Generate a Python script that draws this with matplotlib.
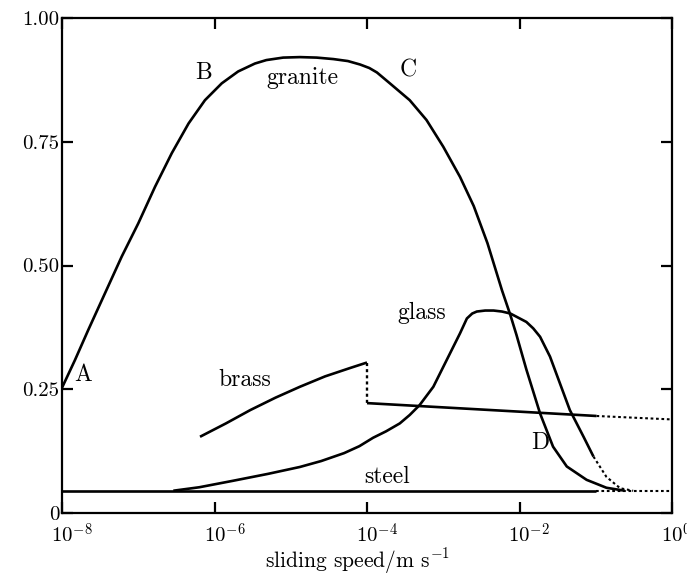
import numpy as np
import matplotlib
matplotlib.use("Agg")
import matplotlib.pyplot as plt
import matplotlib.transforms as mtransforms

plt.rcParams['mathtext.fontset'] = 'cm'
plt.rcParams['font.family'] = ['cmr10', 'DejaVu Serif']
plt.rcParams['axes.unicode_minus'] = False

# ---- data (log10 of sliding speed / m s^-1, friction coefficient) ----
granite_logv = [-8.0, -7.83, -7.655, -7.436, -7.217, -7.0, -6.78, -6.56, -6.34, -6.125,
                -5.905, -5.69, -5.47, -5.32, -5.1, -4.88, -4.66, -4.44, -4.25, -4.09,
                -3.97, -3.87, -3.70, -3.44, -3.22, -3.0, -2.78, -2.6, -2.42, -2.23,
                -2.12, -2.04, -1.91, -1.73, -1.56, -1.38, -1.12, -0.86, -0.62]
granite_mu = [0.253, 0.309, 0.370, 0.444, 0.518, 0.585, 0.659, 0.727, 0.787, 0.834,
              0.868, 0.892, 0.908, 0.915, 0.920, 0.921, 0.920, 0.917, 0.913, 0.906,
              0.899, 0.890, 0.868, 0.834, 0.794, 0.740, 0.679, 0.62, 0.545, 0.45,
              0.40, 0.36, 0.29, 0.201, 0.134, 0.094, 0.067, 0.051, 0.045]

glass_logv = [-6.54, -6.2, -5.76, -5.3, -4.88, -4.6, -4.3, -4.1, -3.92, -3.75, -3.57,
              -3.44, -3.31, -3.13, -2.955, -2.78, -2.69, -2.62, -2.56, -2.45, -2.34,
              -2.23, -2.12, -1.91, -1.82, -1.73, -1.6, -1.47, -1.34, -1.16, -1.03]
glass_mu = [0.045, 0.052, 0.065, 0.079, 0.093, 0.105, 0.121, 0.135, 0.152, 0.165, 0.181,
            0.198, 0.218, 0.255, 0.309, 0.363, 0.393, 0.403, 0.407, 0.409, 0.409,
            0.407, 0.403, 0.386, 0.373, 0.356, 0.316, 0.262, 0.208, 0.154, 0.114]
glass_dot_logv = [-1.03, -0.86, -0.68, -0.51]
glass_dot_mu = [0.114, 0.073, 0.050, 0.045]

brass_logv = [-6.19, -5.85, -5.53, -5.2, -4.88, -4.55, -4.22, -4.0]
brass_mu = [0.154, 0.181, 0.208, 0.233, 0.255, 0.276, 0.293, 0.304]
brass_jump_logv = [-4.0, -4.0]
brass_jump_mu = [0.304, 0.222]
brass_hi_logv = [-4.0, -0.99]
brass_hi_mu = [0.222, 0.196]
brass_hi_dot_logv = [-0.99, 0.0]
brass_hi_dot_mu = [0.196, 0.189]

steel_logv = [-8.0, -1.0]
steel_mu = [0.045, 0.045]
steel_dot_logv = [-1.0, 0.0]
steel_dot_mu = [0.045, 0.045]

xtick_exp = [-8, -6, -4, -2, 0]
ytick_vals = [0, 0.25, 0.50, 0.75, 1.00]
ytick_labels = ['0', '0.25', '0.50', '0.75', '1.00']

annotations = [('A', -7.72, 0.279), ('B', -6.15, 0.889), ('granite', -4.85, 0.879),
               ('C', -3.46, 0.895), ('glass', -3.28, 0.404), ('brass', -5.6, 0.269),
               ('D', -1.73, 0.141), ('steel', -3.74, 0.073)]


def sp(lv):
    return [10.0 ** v for v in lv]


fig = plt.figure(figsize=(6.87, 5.76), dpi=100)
ax = fig.add_axes([62/687, 1-513/576, 610/687, 495/576])

lw = 1.9
dot = (0, (1.3, 1.3))
k = 'black'
solid_kw = dict(color=k, lw=lw, solid_joinstyle='round', solid_capstyle='butt')
ax.plot(sp(granite_logv), granite_mu, **solid_kw)
ax.plot(sp(glass_logv), glass_mu, **solid_kw)
ax.plot(sp(glass_dot_logv), glass_dot_mu, color=k, lw=1.5, ls=dot)
ax.plot(sp(brass_logv), brass_mu, **solid_kw)
ax.plot(sp(brass_jump_logv), brass_jump_mu, color=k, lw=1.7, ls=dot)
ax.plot(sp(brass_hi_logv), brass_hi_mu, **solid_kw)
ax.plot(sp(brass_hi_dot_logv), brass_hi_dot_mu, color=k, lw=1.5, ls=dot)
ax.plot(sp(steel_logv), steel_mu, **solid_kw)
ax.plot(sp(steel_dot_logv), steel_dot_mu, color=k, lw=1.5, ls=dot)

ax.set_xscale('log')
ax.set_xlim(1e-8, 1.0)
ax.set_ylim(0, 1.0)

for s in ax.spines.values():
    s.set_linewidth(1.6)

ax.set_xticks([10.0 ** e for e in xtick_exp])
ax.set_xticklabels(['$10^{%d}$' % e for e in xtick_exp], fontsize=15)
ax.xaxis.set_minor_locator(matplotlib.ticker.NullLocator())
ax.set_yticks(ytick_vals)
ax.set_yticklabels(ytick_labels, fontsize=15)
ax.tick_params(axis='both', which='major', direction='in', length=8, width=1.6,
               top=True, right=True)
ax.tick_params(axis='x', pad=7)
ax.tick_params(axis='y', pad=2)

offset = mtransforms.ScaledTranslation(-11/100, 0, fig.dpi_scale_trans)
for lbl in ax.get_xticklabels():
    lbl.set_horizontalalignment('left')
    lbl.set_transform(lbl.get_transform() + offset)

for txt, lv, mu in annotations:
    ax.text(10.0 ** lv, mu, txt, fontsize=17, ha='center', va='center')

fig.text(357/687, 1-568/576, 'sliding speed/m s$^{-1}$', fontsize=15.5,
         ha='center', va='baseline')

fig.savefig('out.png', dpi=100)
